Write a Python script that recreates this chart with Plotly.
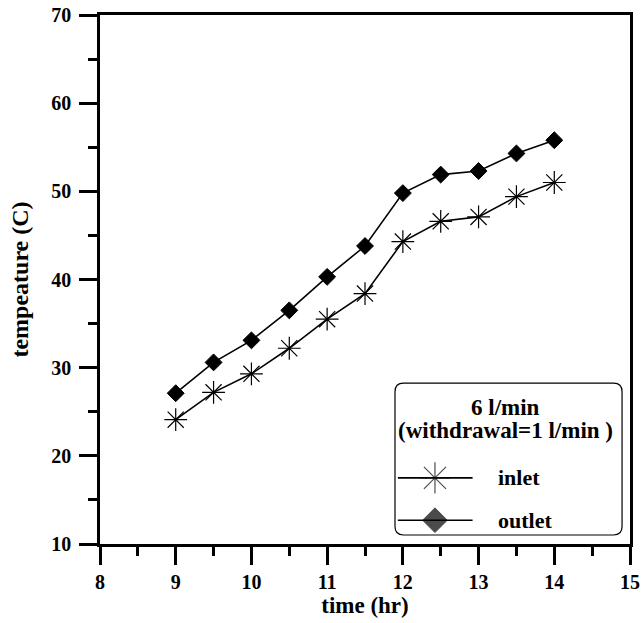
import plotly.graph_objects as go

time_hr = [9, 9.5, 10, 10.5, 11, 11.5, 12, 12.5, 13, 13.5, 14]
inlet = [24.1, 27.2, 29.3, 32.2, 35.5, 38.4, 44.3, 46.6, 47.1, 49.4, 51.0]
outlet = [27.1, 30.6, 33.1, 36.5, 40.3, 43.8, 49.8, 51.9, 52.3, 54.3, 55.8]
x_ticks = [8, 9, 10, 11, 12, 13, 14, 15]
y_ticks = [10, 20, 30, 40, 50, 60, 70]
legend_title_lines = ["6 l/min", "(withdrawal=1 l/min )"]
series_names = ["inlet", "outlet"]

FONT = "Liberation Serif, Times New Roman, serif"

fig = go.Figure()
fig.add_trace(go.Scatter(
    x=time_hr, y=inlet, mode="lines+markers", name=series_names[0],
    line=dict(color="black", width=1.6),
    marker=dict(symbol="asterisk-open", size=19, line=dict(color="#333", width=1.2)),
))
fig.add_trace(go.Scatter(
    x=time_hr, y=outlet, mode="lines+markers", name=series_names[1],
    line=dict(color="black", width=1.6),
    marker=dict(symbol="diamond", size=13, color="black", line=dict(color="black", width=1)),
))

# legend samples on an overlay axis spanning the plot area (0..1)
fig.add_trace(go.Scatter(
    x=[0.562, 0.632, 0.703], y=[0.125, 0.125, 0.125], xaxis="x2", yaxis="y2",
    mode="lines+markers", line=dict(color="black", width=1.6),
    marker=dict(symbol="asterisk-open", size=[0, 26, 0],
                line=dict(color="#333", width=1.2)),
    hoverinfo="skip",
))
fig.add_trace(go.Scatter(
    x=[0.562, 0.632, 0.703], y=[0.045, 0.045, 0.045], xaxis="x2", yaxis="y2",
    mode="lines+markers", line=dict(color="black", width=1.6),
    marker=dict(symbol="diamond", size=[0, 19, 0], color="black",
                line=dict(color="black", width=1)),
    hoverinfo="skip",
))

axis_common = dict(
    showline=True, linecolor="black", linewidth=2.5, mirror=True,
    ticks="outside", ticklen=18, tickwidth=2.5, tickcolor="black",
    showgrid=False, zeroline=False, automargin=False,
    tickfont=dict(family=FONT, size=20, color="black", weight="bold"),
)

fig.update_layout(
    width=641, height=623,
    margin=dict(l=100, r=11, t=15, b=79),
    paper_bgcolor="white", plot_bgcolor="white",
    showlegend=False,
    xaxis=dict(range=[8, 15], tickvals=x_ticks,
               minor=dict(dtick=0.5, ticklen=9, tickwidth=2.5, tickcolor="black", ticks="outside"),
               title=dict(text="time (hr)", standoff=6,
                          font=dict(family=FONT, size=23, color="black", weight="bold")),
               **axis_common),
    yaxis=dict(range=[10, 70], tickvals=y_ticks, ticklabelstandoff=4,
               minor=dict(dtick=5, ticklen=9, tickwidth=2.5, tickcolor="black", ticks="outside"),
               title=dict(text="tempeature (C)", standoff=16,
                          font=dict(family=FONT, size=24, color="black", weight="bold")),
               **axis_common),
    xaxis2=dict(range=[0, 1], overlaying="x", visible=False, fixedrange=True),
    yaxis2=dict(range=[0, 1], overlaying="y", visible=False, fixedrange=True),
)

# rounded legend box (paper coords)
x0, x1, y0, y1 = 0.5566, 0.985, 0.017, 0.304
rx, ry = 0.016, 0.016
path = (f"M {x0+rx},{y1} L {x1-rx},{y1} Q {x1},{y1} {x1},{y1-ry} "
        f"L {x1},{y0+ry} Q {x1},{y0} {x1-rx},{y0} L {x0+rx},{y0} "
        f"Q {x0},{y0} {x0},{y0+ry} L {x0},{y1-ry} Q {x0},{y1} {x0+rx},{y1} Z")
fig.add_shape(type="path", path=path, xref="paper", yref="paper",
              line=dict(color="black", width=1.2), fillcolor="white", layer="below")

tf = dict(family=FONT, size=23, color="black", weight="bold")
lf = dict(family=FONT, size=22, color="black", weight="bold")
fig.add_annotation(x=0.766, y=0.2588, xref="paper", yref="paper", text=legend_title_lines[0],
                   showarrow=False, font=tf, xanchor="center", yanchor="middle")
fig.add_annotation(x=0.766, y=0.2154, xref="paper", yref="paper", text=legend_title_lines[1],
                   showarrow=False, font=tf, xanchor="center", yanchor="middle")
fig.add_annotation(x=0.748, y=0.125, xref="paper", yref="paper", text=series_names[0],
                   showarrow=False, font=lf, xanchor="left", yanchor="middle")
fig.add_annotation(x=0.748, y=0.045, xref="paper", yref="paper", text=series_names[1],
                   showarrow=False, font=lf, xanchor="left", yanchor="middle")

fig.write_html("out.html")
